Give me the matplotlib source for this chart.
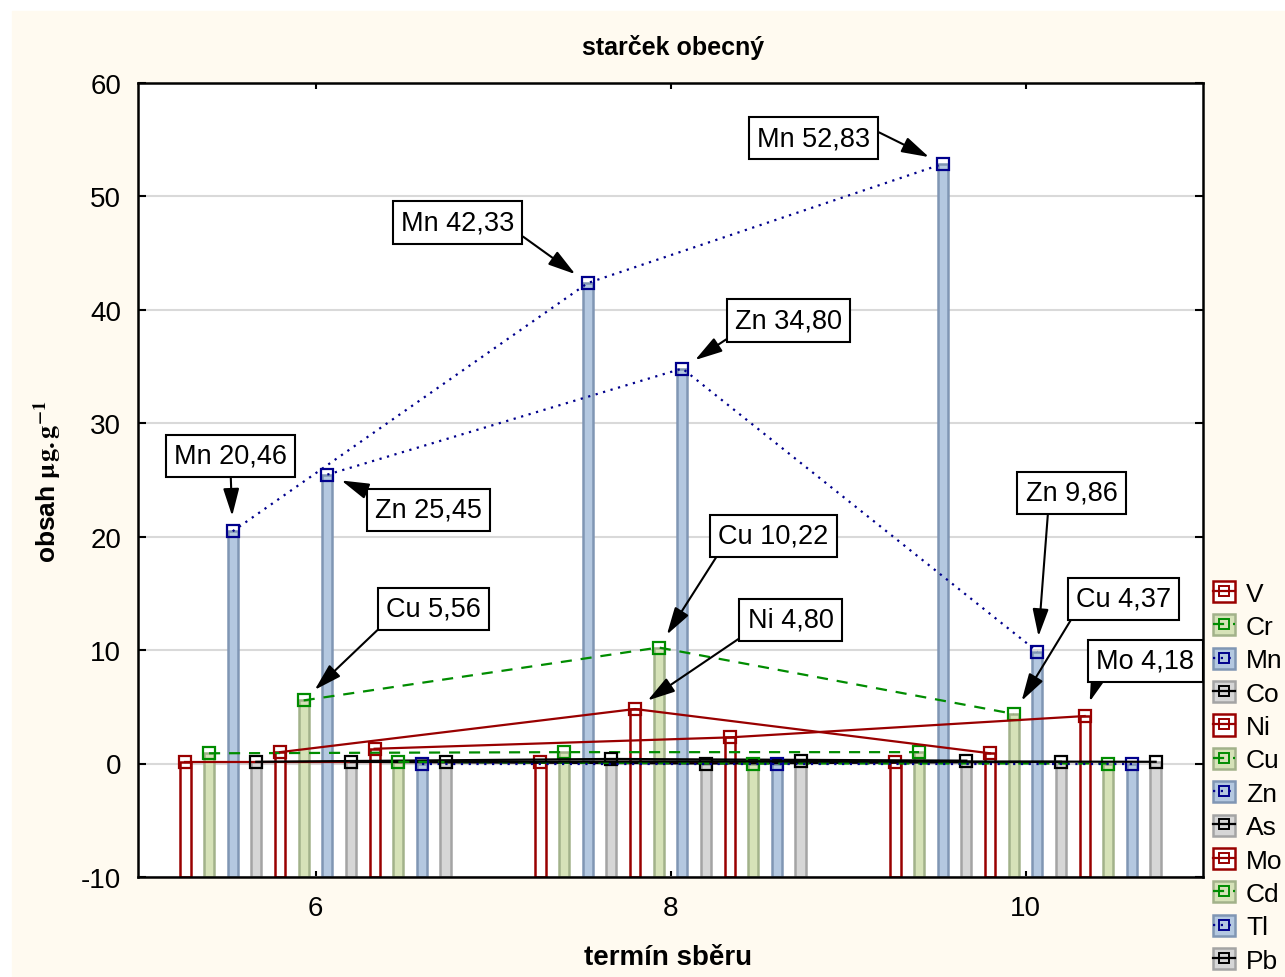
import matplotlib
matplotlib.use("Agg")
import matplotlib.pyplot as plt
from matplotlib.patches import Rectangle
from matplotlib.lines import Line2D

plt.rcParams['font.family'] = ['Liberation Sans', 'DejaVu Sans']
plt.rcParams['mathtext.fontset'] = 'stix'
plt.rcParams['axes.unicode_minus'] = False

# data
terms = [6, 8, 10]
elements = ['V', 'Cr', 'Mn', 'Co', 'Ni', 'Cu', 'Zn', 'As', 'Mo', 'Cd', 'Tl', 'Pb']
v_vals = [0.15, 0.15, 0.15]
cr_vals = [0.9, 1.0, 1.0]
mn_vals = [20.46, 42.33, 52.83]
co_vals = [0.15, 0.4, 0.25]
ni_vals = [1.0, 4.80, 0.9]
cu_vals = [5.56, 10.22, 4.37]
zn_vals = [25.45, 34.80, 9.86]
as_vals = [0.15, 0.0, 0.15]
mo_vals = [1.3, 2.3, 4.18]
cd_vals = [0.15, 0.0, 0.0]
tl_vals = [0.0, 0.0, 0.0]
pb_vals = [0.15, 0.2, 0.15]
values = [v_vals, cr_vals, mn_vals, co_vals, ni_vals, cu_vals,
          zn_vals, as_vals, mo_vals, cd_vals, tl_vals, pb_vals]

# (element, term index, text box position)
notes = [('Mn', 0, (5.521, 27.12)), ('Zn', 0, (6.637, 22.36)),
         ('Mn', 1, (6.800, 47.67)), ('Zn', 1, (8.665, 39.03)),
         ('Mn', 2, (8.806, 55.08)), ('Cu', 0, (6.665, 13.63)),
         ('Cu', 1, (8.580, 20.07)), ('Ni', 1, (8.676, 12.66)),
         ('Zn', 2, (10.259, 23.85)), ('Cu', 2, (10.552, 14.52)),
         ('Mo', 2, (10.676, 9.05))]
note_relpos = [(0.5, 0), (0.05, 1), (1, 0.2), (0, 0), (1, 0.9), (0, 0),
               (0.03, 0), (0, 0), (0.25, 0), (0, 0), (0.03, 0)]

# styles, cycling in groups of four
red, green, navy = '#990000', '#008c00', '#00008c'
line_styles = [dict(color=red, ls='-'), dict(color=green, ls=(0, (5, 4))),
               dict(color=navy, ls=(0, (1, 2.5))), dict(color='black', ls='-')]
bar_styles = [dict(fc='white', ec=red), dict(fc='#d6e2b8', ec='#a2b28a'),
              dict(fc='#b4c8e0', ec='#8096b4'), dict(fc='#d6d6d6', ec='#a4a4a4')]

step = 0.1333
width = 0.058

fig = plt.figure(figsize=(12.85, 9.78), dpi=100, facecolor='white')
fig.patches.append(Rectangle((12 / 1285, 0), 1, 1 - 12 / 978, transform=fig.transFigure,
                             color='#fffaf0', zorder=-10))
ax = fig.add_axes([138 / 1285, 1 - 878 / 978, (1203 - 138) / 1285, (878 - 83.5) / 978])
ax.set_facecolor('white')

handles = []
for i, (el, vals) in enumerate(zip(elements, values)):
    xs = [t + (i - 5.5) * step for t in terms]
    bs = bar_styles[i % 4]
    ls = line_styles[i % 4]
    ax.bar(xs, [v + 10 for v in vals], bottom=-10, width=width,
           facecolor=bs['fc'], edgecolor=bs['ec'], linewidth=1.8, zorder=2)
    ax.plot(xs, vals, color=ls['color'], ls=ls['ls'], lw=1.6, marker='s', ms=9,
            mfc='none', mec=ls['color'], mew=1.6, zorder=3)
    patch = Rectangle((0, 0), 1, 1, facecolor=bs['fc'], edgecolor=bs['ec'], lw=1.8)
    line = Line2D([], [], color=ls['color'], ls=ls['ls'], lw=1.6, marker='s', ms=7,
                  mfc='none', mec=ls['color'], mew=1.4)
    handles.append((patch, line))

for (el, k, pos), rp in zip(notes, note_relpos):
    i = elements.index(el)
    val = values[i][k]
    x = terms[k] + (i - 5.5) * step
    txt = f"{el} {val:.2f}".replace('.', ',')
    ax.annotate(txt, xy=(x, val), xytext=pos, ha='center', va='center', fontsize=19.5,
                bbox=dict(boxstyle='square,pad=0.3', fc='white', ec='black', lw=1.5),
                arrowprops=dict(arrowstyle='-|>,head_length=1.2,head_width=0.35',
                                color='black', lw=1.5, shrinkA=0, shrinkB=11,
                                mutation_scale=14, relpos=rp),
                zorder=5)

ax.set_xlim(5, 11)
ax.set_ylim(-10, 60)
ax.set_xticks(terms)
ax.set_yticks(range(-10, 61, 10))
ax.yaxis.grid(True, color='#d9d9d9', lw=1.5, zorder=0)
ax.set_axisbelow(True)
ax.tick_params(axis='both', direction='in', top=True, right=True, labelsize=20,
               width=1.5, color='black')
ax.tick_params(axis='x', length=4, pad=13)
ax.tick_params(axis='y', length=6, pad=12)
for s in ax.spines.values():
    s.set_linewidth(1.8)

fig.text(673 / 1285, 1 - 47 / 978, 'starček obecný', ha='center', va='center',
         fontsize=18, fontweight='bold')
fig.text(668 / 1285, 1 - 958 / 978, 'termín sběru', ha='center', va='center',
         fontsize=20, fontweight='bold')
fig.text(48 / 1285, 1 - 482 / 978, r'obsah $\mathbf{\mu g.g^{-1}}$', ha='center',
         va='center', rotation=90, fontsize=19, fontweight='bold')

fig.legend(handles, elements, loc='upper left',
           bbox_to_anchor=(1213 / 1285, 1 - 582 / 978), frameon=False, fontsize=19,
           handlelength=0.85, handleheight=0.85, handletextpad=0.4, labelspacing=0.33,
           borderpad=0, borderaxespad=0)

fig.savefig('out.png', dpi=100, facecolor=fig.get_facecolor())
